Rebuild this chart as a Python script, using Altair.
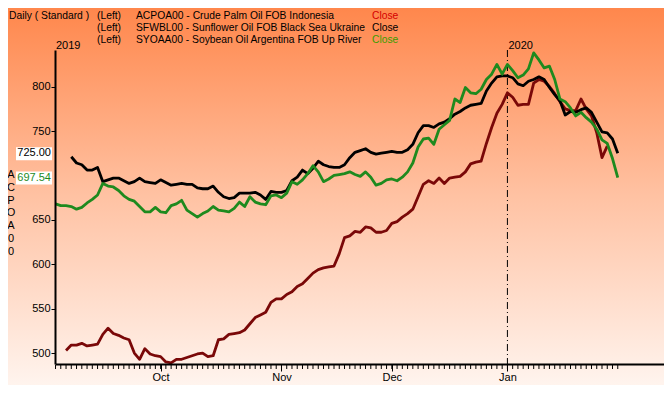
import altair as alt
import pandas as pd

# ---- data (x = trading-day number, 1 = 3 Sep 2019, 87 = 1 Jan 2020) ----
palm_days = list(range(3, 107))
palm_vals = [503, 509, 509, 511, 508, 509, 510, 521, 528, 522, 520, 517, 515, 500, 493,
             505, 499, 497, 496, 490, 489, 493, 493, 495, 497, 499, 500, 496, 497, 515,
             516, 521, 522, 523, 526, 533, 540, 543, 546, 557, 561, 561, 566, 569, 575,
             578, 584, 590, 594, 596, 597, 598, 612, 630, 632, 637, 636, 642, 641, 636,
             636, 638, 646, 648, 653, 657, 662, 676, 690, 694, 691, 697, 691, 697, 698,
             699, 704, 713, 715, 716, 736, 754, 770, 780, 793, 788, 779, 780, 780, 804,
             808, 806, 800, 792, 783, 775, 773, 773, 786, 775, 767, 748, 720, 733]

sun_days = list(range(4, 109))
sun_vals = [721, 714, 712, 706, 706, 709, 693, 695, 697, 697, 694, 691, 693, 697, 693,
            692, 691, 695, 692, 689, 690, 691, 690, 690, 686, 685, 685, 688, 681, 676,
            674, 675, 680, 680, 680, 681, 678, 673, 682, 681, 681, 683, 694, 698, 706,
            702, 708, 716, 712, 710, 709, 709, 712, 720, 726, 728, 730, 726, 724, 725,
            726, 727, 726, 726, 729, 735, 748, 756, 756, 754, 758, 760, 764, 769, 772,
            776, 779, 780, 781, 795, 804, 811, 812, 812, 810, 803, 801, 806, 808, 811,
            808, 799, 791, 784, 768, 772, 771, 774, 776, 771, 760, 749, 748, 741, 725.00]

soy_days = list(range(1, 109))
soy_vals = [668, 666, 666, 665, 662, 664, 669, 673, 678, 691, 688, 687, 683, 677, 673,
            671, 665, 659, 659, 664, 659, 658, 666, 668, 672, 661, 657, 653, 657, 660,
            665, 661, 660, 659, 663, 670, 665, 676, 670, 668, 667, 677, 678, 675, 680,
            693, 690, 695, 702, 711, 704, 693, 696, 700, 701, 702, 704, 701, 699, 704,
            698, 689, 691, 695, 696, 694, 698, 704, 714, 732, 741, 742, 735, 752, 757,
            762, 786, 782, 799, 793, 792, 797, 808, 814, 825, 814, 825, 818, 810, 813,
            820, 838, 830, 821, 823, 808, 786, 783, 776, 767, 771, 765, 760, 752, 740,
            736, 719, 697.54]

tick_days = list(range(1, 109))
month_days = [21, 44, 65, 87]
month_names = ["Oct", "Nov", "Dec", "Jan"]
year_days = [0.9, 87]
year_names = ["2019", "2020"]
y_ticks = [500, 550, 600, 650, 750, 800]

codes = ["ACPOA00", "SFWBL00", "SYOAA00"]
names = ["Crude Palm Oil FOB Indonesia", "Sunflower Oil FOB Black Sea Ukraine",
         "Soybean Oil Argentina FOB Up River"]
close_colors = ["#D40000", "#000000", "#3C9C00"]
line_colors = ["#7A0808", "#000000", "#1E8A1E"]

last_vals = [725.00, 697.54]
last_labels = ["725.00", "697.54"]
last_colors = ["#000000", "#1E8A1E"]

W, H = 609, 314
TOP, BOT = 42, 21
FONT = "Liberation Sans"
LEG = 10.3

xscale = alt.Scale(domain=[0.9, 116.8], nice=False, zero=False)
yscale = alt.Scale(domain=[487.7, 841.2], nice=False, zero=False)

label_expr = " : ".join(
    f"datum.value == {d} ? '{m}'" for d, m in zip(month_days, month_names)) + " : ''"

x_axis = alt.Axis(values=month_days, labelExpr=label_expr, tickSize=7, labelPadding=0,
                  domainWidth=2, domainColor="black", tickColor="black", tickWidth=1,
                  labelFont=FONT, labelFontSize=11, labelColor="black", grid=False,
                  title="", zindex=1)
y_axis = alt.Axis(values=y_ticks, tickSize=4, labelPadding=1, domainWidth=2,
                  domainColor="black", tickColor="black", labelFont=FONT,
                  labelFontSize=11, labelColor="black", grid=False, title="", zindex=1)

gradient = alt.Gradient(gradient="linear",
                        stops=[alt.GradientStop(color="#FF874C", offset=0),
                               alt.GradientStop(color="#FFC2A3", offset=0.5),
                               alt.GradientStop(color="#FFF4EE", offset=1)],
                        x1=0, x2=0, y1=0, y2=1)

one = pd.DataFrame({"k": [0]})
bg = alt.Chart(one).mark_rect(fill=gradient, strokeWidth=0).encode(
    x=alt.value(-47), x2=alt.value(W), y=alt.value(-TOP), y2=alt.value(H + BOT))

minor = alt.Chart(pd.DataFrame({"day": tick_days})).mark_rule(
    color="black", strokeWidth=1).encode(
    x=alt.X("day:Q", scale=xscale, axis=x_axis),
    y=alt.value(H + 1), y2=alt.value(H + 5))

yr_rule = alt.Chart(pd.DataFrame({"day": [87]})).mark_rule(
    color="black", strokeWidth=1, strokeDash=[7, 3, 1, 3]).encode(
    x=alt.X("day:Q", scale=xscale), y=alt.value(0), y2=alt.value(H))

def line(days, vals, color):
    df = pd.DataFrame({"day": days, "val": vals})
    return alt.Chart(df).mark_line(color=color, strokeWidth=2.8, strokeJoin="round").encode(
        x=alt.X("day:Q", scale=xscale),
        y=alt.Y("val:Q", scale=yscale, axis=y_axis))

palm = line(palm_days, palm_vals, line_colors[0])
sun = line(sun_days, sun_vals, line_colors[1])
soy = line(soy_days, soy_vals, line_colors[2])

years = alt.Chart(pd.DataFrame({"day": year_days, "t": year_names})).mark_text(
    align="left", baseline="middle", dx=1, font=FONT, fontSize=11, color="black").encode(
    x=alt.X("day:Q", scale=xscale), y=alt.value(-4), text="t:N")

last_df = pd.DataFrame({"val": last_vals, "lab": last_labels, "col": last_colors})
boxes = alt.Chart(last_df).mark_rect(fill="white", yOffset=-6, y2Offset=7).encode(
    x=alt.value(-39), x2=alt.value(-3),
    y=alt.Y("val:Q", scale=yscale), y2="val:Q")
box_txt = alt.Chart(last_df).mark_text(
    align="right", baseline="middle", font=FONT, fontSize=11).encode(
    x=alt.value(-4), y=alt.Y("val:Q", scale=yscale), text="lab:N",
    color=alt.Color("col:N", scale=None))

ytitle = alt.Chart(one).mark_text(
    text=list(codes[0]), lineHeight=12.8, baseline="top", align="center",
    font=FONT, fontSize=11, color="black").encode(x=alt.value(-44), y=alt.value(119))

legend_layers = []
row_y = [-34, -22, -10]
legend_layers.append(alt.Chart(one).mark_text(
    text="Daily ( Standard )", align="left", baseline="middle", font=FONT,
    fontSize=LEG, color="black").encode(x=alt.value(-46), y=alt.value(row_y[0])))
for i in range(3):
    legend_layers.append(alt.Chart(one).mark_text(
        text="(Left)", align="left", baseline="middle", font=FONT, fontSize=LEG,
        color="black").encode(x=alt.value(42), y=alt.value(row_y[i])))
    legend_layers.append(alt.Chart(one).mark_text(
        text=f"{codes[i]} - {names[i]}", align="left", baseline="middle", font=FONT,
        fontSize=LEG, color="black").encode(x=alt.value(81), y=alt.value(row_y[i])))
    legend_layers.append(alt.Chart(one).mark_text(
        text="Close", align="left", baseline="middle", font=FONT, fontSize=LEG,
        color=close_colors[i]).encode(x=alt.value(317), y=alt.value(row_y[i])))

chart = alt.layer(bg, minor, yr_rule, palm, sun, soy, years, boxes, box_txt, ytitle,
                  *legend_layers).properties(
    width=W, height=H,
    padding={"left": 47, "top": TOP, "right": 0, "bottom": BOT},
    autosize=alt.AutoSizeParams(type="none"),
    background="white",
).configure_view(strokeWidth=0)

chart.save("out.html", embed_options={"renderer": "svg", "actions": False})
